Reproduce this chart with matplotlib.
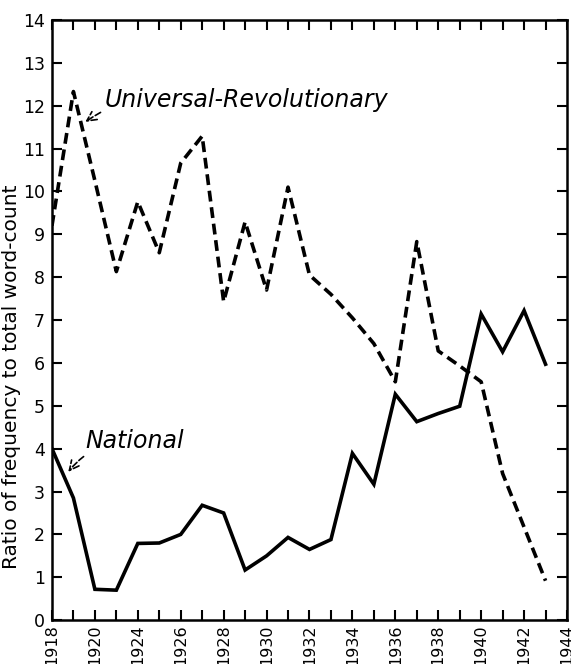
import matplotlib.pyplot as plt

# x positions: one tick per year, 1918 .. 1942 (25 ticks); printed labels on every other tick
years = list(range(1918, 1942))
tick_years = list(range(1918, 1943, 2))
tick_labels = ['1918', '1920', '1924', '1926', '1928', '1930', '1932',
               '1934', '1936', '1938', '1940', '1942', '1944']

national = [4.0, 2.85, 0.72, 0.70, 1.79, 1.80, 2.0, 2.68, 2.5, 1.17, 1.5, 1.93,
            1.65, 1.88, 3.89, 3.17, 5.27, 4.63, 4.82, 4.99, 7.14, 6.26, 7.22, 5.97]
universal = [9.2, 12.33, 10.25, 8.13, 9.76, 8.57, 10.66, 11.29, 7.43, 9.29, 7.7, 10.1,
             8.05, 7.6, 7.05, 6.45, 5.56, 8.83, 6.28, 5.93, 5.56, 3.42, 2.17, 0.92]

plt.rcParams['font.family'] = 'DejaVu Sans'

fig = plt.figure(figsize=(5.71, 6.64), dpi=100)
ax = fig.add_axes([0.091, 0.066, 0.902, 0.904])

ax.plot(years, national, 'k-', lw=2.6, solid_joinstyle='miter')
ax.plot(years, universal, 'k--', lw=2.6, dashes=(3.0, 1.6))

ax.set_xlim(1918, 1942)
ax.set_ylim(0, 14)
ax.set_yticks(range(0, 15))
ax.set_xticks(list(range(1918, 1943)))
labels = []
for y in range(1918, 1943):
    if y in tick_years:
        labels.append(tick_labels[tick_years.index(y)])
    else:
        labels.append('')
ax.set_xticklabels(labels, rotation=90, fontsize=11.5)
ax.tick_params(axis='y', labelsize=12.5, pad=5)
ax.tick_params(axis='x', pad=3)
ax.tick_params(direction='in', top=True, right=True, length=7, width=1.5)
for s in ax.spines.values():
    s.set_linewidth(1.8)

ax.set_ylabel('Ratio of frequency to total word-count', fontsize=14.5)
ax.yaxis.set_label_coords(-0.06, 0.405)

ax.annotate('Universal-Revolutionary', xy=(1919.55, 11.62), xytext=(1920.45, 12.13),
            fontsize=17, style='italic', va='center', ha='left',
            arrowprops=dict(arrowstyle='->', lw=1.2, linestyle='--',
                            connectionstyle='arc3,rad=0.25', shrinkA=1, shrinkB=0))
ax.annotate('National', xy=(1918.76, 3.46), xytext=(1919.54, 4.18),
            fontsize=17, style='italic', va='center', ha='left',
            arrowprops=dict(arrowstyle='->', lw=1.2, linestyle='--',
                            connectionstyle='arc3,rad=0.25', shrinkA=1, shrinkB=0))

fig.savefig('out.png', dpi=100)
